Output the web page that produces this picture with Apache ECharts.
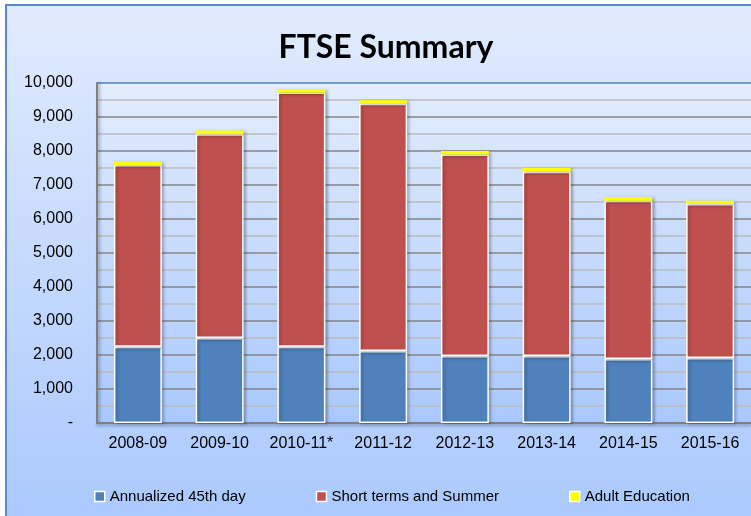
<!DOCTYPE html>
<html>
<head>
<meta charset="utf-8">
<script src="https://cdn.jsdelivr.net/npm/echarts@6/dist/echarts.min.js"></script>
<style>
html,body{margin:0;padding:0;background:#fff;}
#chart{width:751px;height:516px;}
</style>
</head>
<body>
<div id="chart"></div>
<script>
const categories = ['2008-09','2009-10','2010-11*','2011-12','2012-13','2013-14','2014-15','2015-16'];
const annualized45thDay = [2240, 2500, 2240, 2120, 1970, 1970, 1880, 1910];
const shortTermsSummer = [5350, 5990, 7480, 7270, 5930, 5420, 4660, 4530];
const adultEducation = [100, 110, 100, 100, 100, 110, 110, 100];
const seriesNames = ['Annualized 45th day', 'Short terms and Summer', 'Adult Education'];

const FONT = "'Liberation Sans', Arial, sans-serif";
const chart = echarts.init(document.getElementById('chart'), null, {renderer: 'canvas'});

const barStyle = (color) => ({
  color: color,
  borderColor: '#ffffff',
  borderWidth: 1.5,
  shadowBlur: 3,
  shadowOffsetX: 2,
  shadowOffsetY: 1,
  shadowColor: 'rgba(0,0,0,0.28)'
});

const gridColors = [];
for (let i = 0; i < 10; i++) gridColors.push('#858585');
gridColors.push('#4f81bd');

chart.setOption({
  animation: false,
  backgroundColor: 'transparent',
  textStyle: {fontFamily: FONT},
  graphic: [{
    type: 'rect',
    z: -100,
    silent: true,
    shape: {x: 6, y: 5, width: 800, height: 560},
    style: {
      fill: new echarts.graphic.LinearGradient(0, 0, 0, 1, [
        {offset: 0, color: '#e1ebfd'},
        {offset: 1, color: '#a6c6fd'}
      ]),
      stroke: '#5a8bcf',
      lineWidth: 2
    }
  }],
  title: {
    text: 'FTSE Summary',
    left: 381,
    textAlign: 'center',
    top: 27,
    textStyle: {fontFamily: "Lato, 'Open Sans', sans-serif", fontWeight: 'bold', fontSize: 32, color: '#000'}
  },
  legend: {
    data: seriesNames,
    left: 94,
    top: 489,
    padding: 0,
    icon: 'rect',
    itemWidth: 10,
    itemHeight: 10,
    itemGap: 70,
    itemStyle: {borderColor: '#fff', borderWidth: 1.5, shadowBlur: 0, shadowOffsetX: 0, shadowOffsetY: 0},
    textStyle: {fontFamily: FONT, fontSize: 15, color: '#000'}
  },
  grid: {
    left: 97, top: 83, width: 656, height: 340,
    show: true,
    borderWidth: 0,
    backgroundColor: new echarts.graphic.LinearGradient(0, 0, 0, 1, [
      {offset: 0, color: '#e3edfd'},
      {offset: 1, color: '#a9c8fd'}
    ])
  },
  xAxis: {
    type: 'category',
    data: categories,
    axisTick: {show: false},
    axisLine: {show: true, lineStyle: {color: '#7f7f7f', width: 2, shadowBlur: 3, shadowColor: 'rgba(0,0,0,0.3)', shadowOffsetY: 2}},
    axisLabel: {fontFamily: FONT, fontSize: 16, color: '#000', margin: 13, interval: 0}
  },
  yAxis: {
    type: 'value',
    min: 0, max: 10000, interval: 1000,
    axisLine: {show: true, lineStyle: {color: '#7f7f7f', width: 2, shadowBlur: 3, shadowColor: 'rgba(0,0,0,0.3)', shadowOffsetX: 2}},
    axisTick: {show: false},
    axisLabel: {
      fontFamily: FONT, fontSize: 16, color: '#000', margin: 24,
      formatter: v => v === 0 ? '-' : v.toLocaleString('en-US')
    },
    splitLine: {show: true, lineStyle: {color: gridColors, width: 1.5}},
    minorTick: {show: false, splitNumber: 2},
    minorSplitLine: {show: true, lineStyle: {color: '#bcbcbc', width: 1.5}}
  },
  series: [
    {name: seriesNames[0], type: 'bar', stack: 'total', data: annualized45thDay, barWidth: 48, itemStyle: barStyle('#4f81bd')},
    {name: seriesNames[1], type: 'bar', stack: 'total', data: shortTermsSummer, barWidth: 48, itemStyle: barStyle('#c0504d')},
    {name: seriesNames[2], type: 'bar', stack: 'total', data: adultEducation, barWidth: 48, itemStyle: Object.assign(barStyle('#ffff00'), {borderWidth: 0})}
  ]
});
</script>
</body>
</html>
